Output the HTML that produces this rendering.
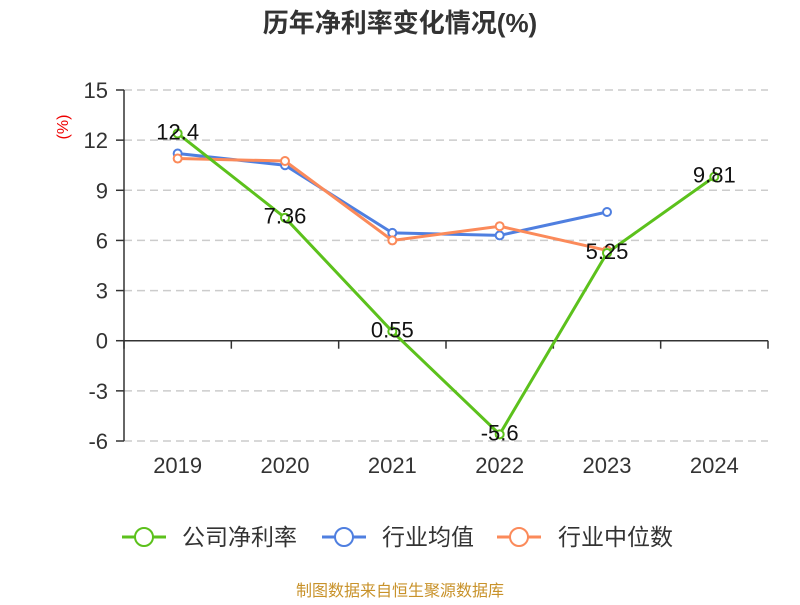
<!DOCTYPE html>
<html><head><meta charset="utf-8"><style>
body{margin:0;background:#fff;}
svg text{font-family:"Liberation Sans","Noto Sans CJK SC",sans-serif;}
</style></head><body>
<svg id="chart" width="800" height="600" xmlns="http://www.w3.org/2000/svg">
<text x="400" y="32" text-anchor="middle" font-size="26" font-weight="bold" fill="#333">历年净利率变化情况(%)</text>
<text transform="translate(68,127) rotate(-90)" text-anchor="middle" font-size="16" fill="#e00">(%)</text>
<g id="grid"></g><g id="axes"></g><g id="series"></g><g id="labels"></g>
<g>
<g><line x1="122" y1="537" x2="166" y2="537" stroke="#5cc11c" stroke-width="3"/><circle cx="144" cy="537" r="9" fill="#fff" stroke="#5cc11c" stroke-width="2"/><text x="182" y="545" font-size="23" fill="#333">公司净利率</text></g>
<g><line x1="322" y1="537" x2="366" y2="537" stroke="#4f7fe0" stroke-width="3"/><circle cx="344" cy="537" r="9" fill="#fff" stroke="#4f7fe0" stroke-width="2"/><text x="382" y="545" font-size="23" fill="#333">行业均值</text></g>
<g><line x1="497" y1="537" x2="541" y2="537" stroke="#fb8a5a" stroke-width="3"/><circle cx="519" cy="537" r="9" fill="#fff" stroke="#fb8a5a" stroke-width="2"/><text x="558" y="545" font-size="23" fill="#333">行业中位数</text></g>
</g>
<text x="400" y="596" text-anchor="middle" font-size="16" fill="#c8922a">制图数据来自恒生聚源数据库</text>
</svg>
<script>
const categories=["2019","2020","2021","2022","2023","2024"];
const companyValues=[12.4,7.36,0.55,-5.6,5.25,9.81];
const industryAvg=[11.2,10.5,6.45,6.3,7.7];
const industryMedian=[10.9,10.75,6.0,6.85,5.4];
const yTicks=[-6,-3,0,3,6,9,12,15];
const NS="http://www.w3.org/2000/svg";
const x0=124,x1=768,yTop=90,yBot=441,vMin=-6,vMax=15;
const bw=(x1-x0)/categories.length;
const xs=i=>x0+bw*(i+0.5);
const ys=v=>yBot-(v-vMin)/(vMax-vMin)*(yBot-yTop);
function mk(tag,attrs,parent){const e=document.createElementNS(NS,tag);for(const k in attrs)e.setAttribute(k,attrs[k]);parent.appendChild(e);return e;}
const grid=document.getElementById('grid'),axes=document.getElementById('axes'),ser=document.getElementById('series'),lab=document.getElementById('labels');
yTicks.forEach(t=>{const y=ys(t);
 if(t!==0){const g=mk('line',{x1:x0,x2:x1,y1:y,y2:y,stroke:'#ccc','stroke-dasharray':'8,5','stroke-width':1.5},grid);
 
 }
 const tk=mk('line',{x1:x0-8,x2:x0,y1:y,y2:y,stroke:'#333','stroke-width':1.5},axes);
 
 
 const tx=mk('text',{x:x0-16,y:y+8,'text-anchor':'end','font-size':22,fill:'#333'},axes);tx.textContent=t;
 
 
});
const ya=mk('line',{x1:x0,x2:x0,y1:yTop,y2:yBot,stroke:'#333','stroke-width':1.5},axes);


const xa=mk('line',{x1:x0,x2:x1,y1:ys(0),y2:ys(0),stroke:'#333','stroke-width':1.5},axes);


for(let i=0;i<=categories.length;i++){const x=x0+bw*i;const t=mk('line',{x1:x,x2:x,y1:ys(0),y2:ys(0)+8,stroke:'#333','stroke-width':1.5},axes);
 
 }
categories.forEach((c,i)=>{const t=mk('text',{x:xs(i),y:473,'text-anchor':'middle','font-size':22,fill:'#333'},axes);t.textContent=c;
 
 });
function series(vals,color,name,marker){
 const p=mk('polyline',{points:vals.map((v,i)=>xs(i)+','+ys(v)).join(' '),fill:'none',stroke:color,'stroke-width':3},ser);
 
 
 if(marker)vals.forEach((v,i)=>{const c=mk('circle',{cx:xs(i),cy:ys(v),r:4,fill:'#fff',stroke:color,'stroke-width':2},ser);
  
  });
}
series(industryAvg,'#4f7fe0','industry-avg',true);
series(industryMedian,'#fb8a5a','industry-median',true);
series(companyValues,'#5cc11c','company',true);
companyValues.forEach((v,i)=>{const t=mk('text',{x:xs(i),y:ys(v)+6,'text-anchor':'middle','font-size':22,fill:'#111'},lab);t.textContent=v;
 
 });
</script>
</body></html>
